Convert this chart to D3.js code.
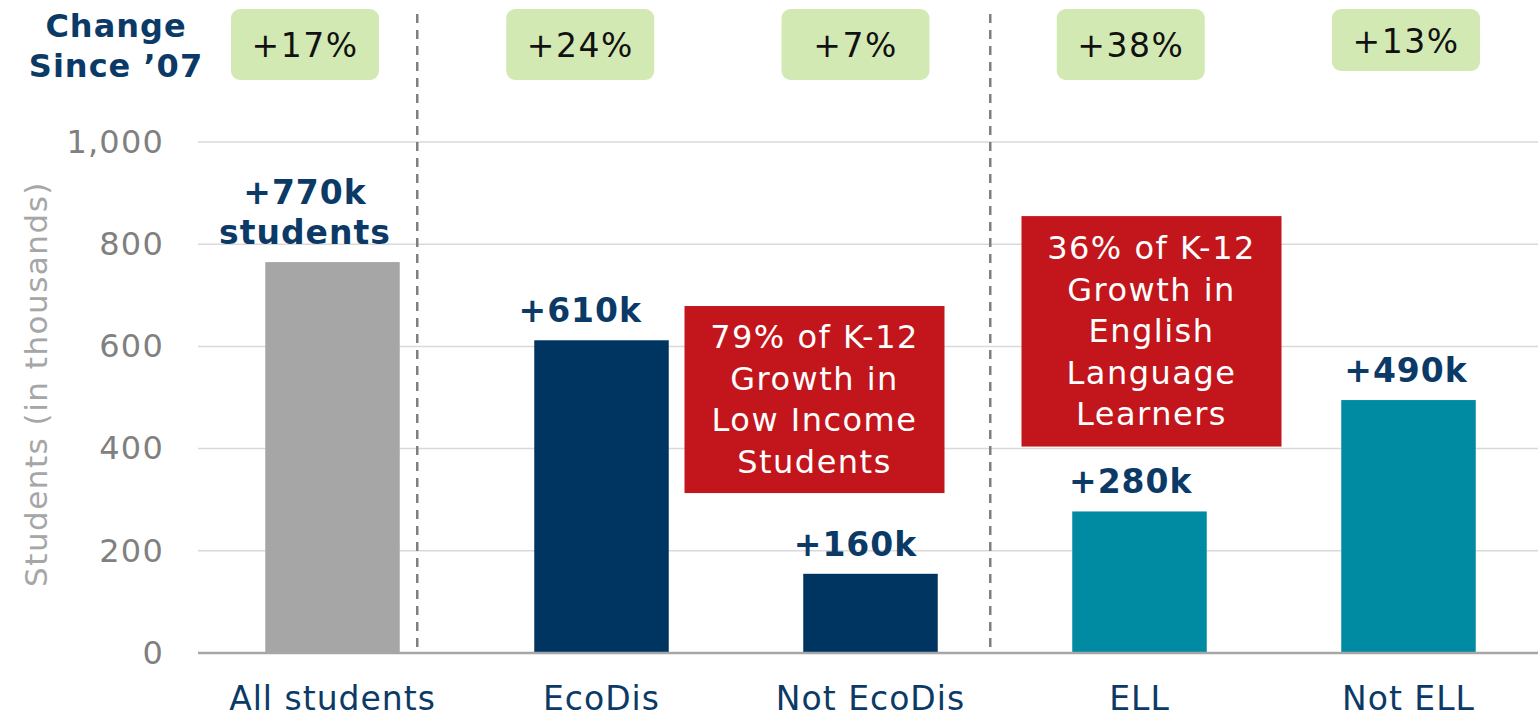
<!DOCTYPE html>
<html>
<head>
<meta charset="utf-8">
<script src="https://cdn.jsdelivr.net/npm/d3@7"></script>
<style>
  html, body { margin: 0; padding: 0; background: #fff; }
  svg { display: block; font-family: "DejaVu Sans", Verdana, sans-serif; }
</style>
</head>
<body>
<svg class="chart"></svg>
<script>
// growth in K-12 enrollment since 2007, thousands of students
var categories = ["All students", "EcoDis", "Not EcoDis", "ELL", "Not ELL"];
var growth = [765, 612, 155, 277, 495];
var groups = ["all", "eco", "eco", "ell", "ell"];
var valueLabels = [["+770k", "students"], ["+610k"], ["+160k"], ["+280k"], ["+490k"]];
var changePct = ["+17%", "+24%", "+7%", "+38%", "+13%"];
var yTicks = [0, 200, 400, 600, 800, 1000];
var ecoNote = ["79% of K-12", "Growth in", "Low Income", "Students"];
var ellNote = ["36% of K-12", "Growth in", "English", "Language", "Learners"];

var width = 1538, height = 717;
var navy = "#003561", teal = "#008ba3", grey = "#a6a6a6", red = "#c3161c";
var colorOf = { all: grey, eco: navy, ell: teal };

var svg = d3.select(".chart").attr("width", width).attr("height", height);

var x = d3.scaleBand()
    .domain(categories)
    .range([198, 1543])
    .paddingInner(0.5)
    .paddingOuter(0.25);

// annotations drift a little to the left of the bars in the original
var xLab = d3.scalePoint()
    .domain(categories)
    .range([305, 1406]);

var y = d3.scaleLinear()
    .domain([0, 1000])
    .range([653, 142]);

// gridlines
svg.append("g")
  .selectAll("line")
  .data(yTicks.filter(function(d){ return d > 0; }))
  .enter().append("line")
    .attr("x1", 198).attr("x2", width)
    .attr("y1", function(d){ return y(d); })
    .attr("y2", function(d){ return y(d); })
    .attr("stroke", "#d9d9d9")
    .attr("stroke-width", 1.5);

// y axis labels
var yAxis = svg.append("g")
    .attr("transform", "translate(178,0)")
    .call(d3.axisLeft(y).tickValues(yTicks).tickSize(0).tickPadding(14)
      .tickFormat(d3.format(",")));
yAxis.select(".domain").remove();
yAxis.selectAll("text")
    .attr("fill", "#808080")
    .attr("font-size", "32px")
    .attr("letter-spacing", "1.2px")
    .attr("font-family", "DejaVu Sans, sans-serif");

svg.append("text")
    .attr("transform", "translate(47,384) rotate(-90)")
    .attr("text-anchor", "middle")
    .attr("fill", "#a6a6a6")
    .attr("font-size", "31px")
    .attr("letter-spacing", "1.5px")
    .text("Students (in thousands)");

// group separators
var sepX = [x("EcoDis") - 117, x("ELL") - 82];
svg.append("g")
  .selectAll("line")
  .data(sepX)
  .enter().append("line")
    .attr("x1", function(d){ return d; })
    .attr("x2", function(d){ return d; })
    .attr("y1", 14).attr("y2", y(0))
    .attr("stroke", "#7f7f7f")
    .attr("stroke-width", 2.5)
    .attr("stroke-dasharray", "9,7");

// bars
svg.append("g")
  .selectAll("rect")
  .data(categories)
  .enter().append("rect")
    .attr("x", function(d){ return x(d); })
    .attr("width", x.bandwidth())
    .attr("y", function(d, i){ return y(growth[i]); })
    .attr("height", function(d, i){ return y(0) - y(growth[i]); })
    .attr("fill", function(d, i){ return colorOf[groups[i]]; });

// baseline
svg.append("line")
    .attr("x1", 198).attr("x2", width)
    .attr("y1", y(0)).attr("y2", y(0))
    .attr("stroke", "#a6a6a6")
    .attr("stroke-width", 2.5);

// value labels above bars
var vl = svg.append("g")
  .selectAll("text")
  .data(categories)
  .enter().append("text")
    .attr("x", function(d){ return xLab(d); })
    .attr("y", function(d, i){
        return y(growth[i]) - 18 - (valueLabels[i].length - 1) * 40;
    })
    .attr("text-anchor", "middle")
    .attr("fill", "#0c3a66")
    .attr("font-size", "33px")
    .attr("letter-spacing", "1px")
    .attr("font-weight", "bold");
vl.selectAll("tspan")
  .data(function(d, i){ return valueLabels[i]; })
  .enter().append("tspan")
    .attr("x", function(){ return d3.select(this.parentNode).attr("x"); })
    .attr("dy", function(d, j){ return j ? 40 : 0; })
    .text(function(d){ return d; });

// x category labels
svg.append("g")
  .selectAll("text")
  .data(categories)
  .enter().append("text")
    .attr("x", function(d){ return x(d) + x.bandwidth() / 2; })
    .attr("y", 710)
    .attr("text-anchor", "middle")
    .attr("fill", "#0c3a66")
    .attr("font-size", "33px")
    .attr("letter-spacing", "1px")
    .text(function(d){ return d; });

// change since '07 boxes
var chg = svg.append("g")
  .selectAll("g")
  .data(changePct)
  .enter().append("g")
    .attr("transform", function(d, i){ return "translate(" + xLab(categories[i]) + ",9)"; });
chg.append("rect")
    .attr("x", -74).attr("width", 148)
    .attr("height", function(d, i){ return i == 4 ? 62 : 71; })
    .attr("rx", 9)
    .attr("fill", "#d3e9b4");
chg.append("text")
    .attr("y", function(d, i){ return i == 4 ? 44 : 48; })
    .attr("text-anchor", "middle")
    .attr("fill", "#111")
    .attr("font-size", "33px")
    .attr("letter-spacing", "1.5px")
    .text(function(d){ return d; });

svg.append("text")
    .attr("x", 116).attr("y", 37)
    .attr("text-anchor", "middle")
    .attr("fill", "#0c3a66")
    .attr("font-size", "32px")
    .attr("letter-spacing", "1px")
    .attr("font-weight", "bold")
    .selectAll("tspan")
    .data(["Change", "Since \u201907"])
    .enter().append("tspan")
      .attr("x", 116)
      .attr("dy", function(d, j){ return j ? 40 : 0; })
      .text(function(d){ return d; });

// red callouts
function callout(lines, cx, top, bottom){
    var g = svg.append("g");
    g.append("rect")
        .attr("x", cx - 130).attr("width", 260)
        .attr("y", y(top)).attr("height", y(bottom) - y(top))
        .attr("fill", red);
    var mid = (y(top) + y(bottom)) / 2;
    var lh = 41.5;
    g.append("text")
        .attr("text-anchor", "middle")
        .attr("fill", "#fff")
        .attr("font-size", "32px")
        .attr("letter-spacing", "1.5px")
        .selectAll("tspan")
        .data(lines)
        .enter().append("tspan")
          .attr("x", cx)
          .attr("y", function(d, j){ return mid + (j - (lines.length - 1) / 2) * lh + 11; })
          .text(function(d){ return d; });
}
callout(ecoNote, x("Not EcoDis") + x.bandwidth() / 2 - 56, 679, 313);
callout(ellNote, x("ELL") + x.bandwidth() / 2 + 12, 855, 404);
</script>
</body>
</html>
